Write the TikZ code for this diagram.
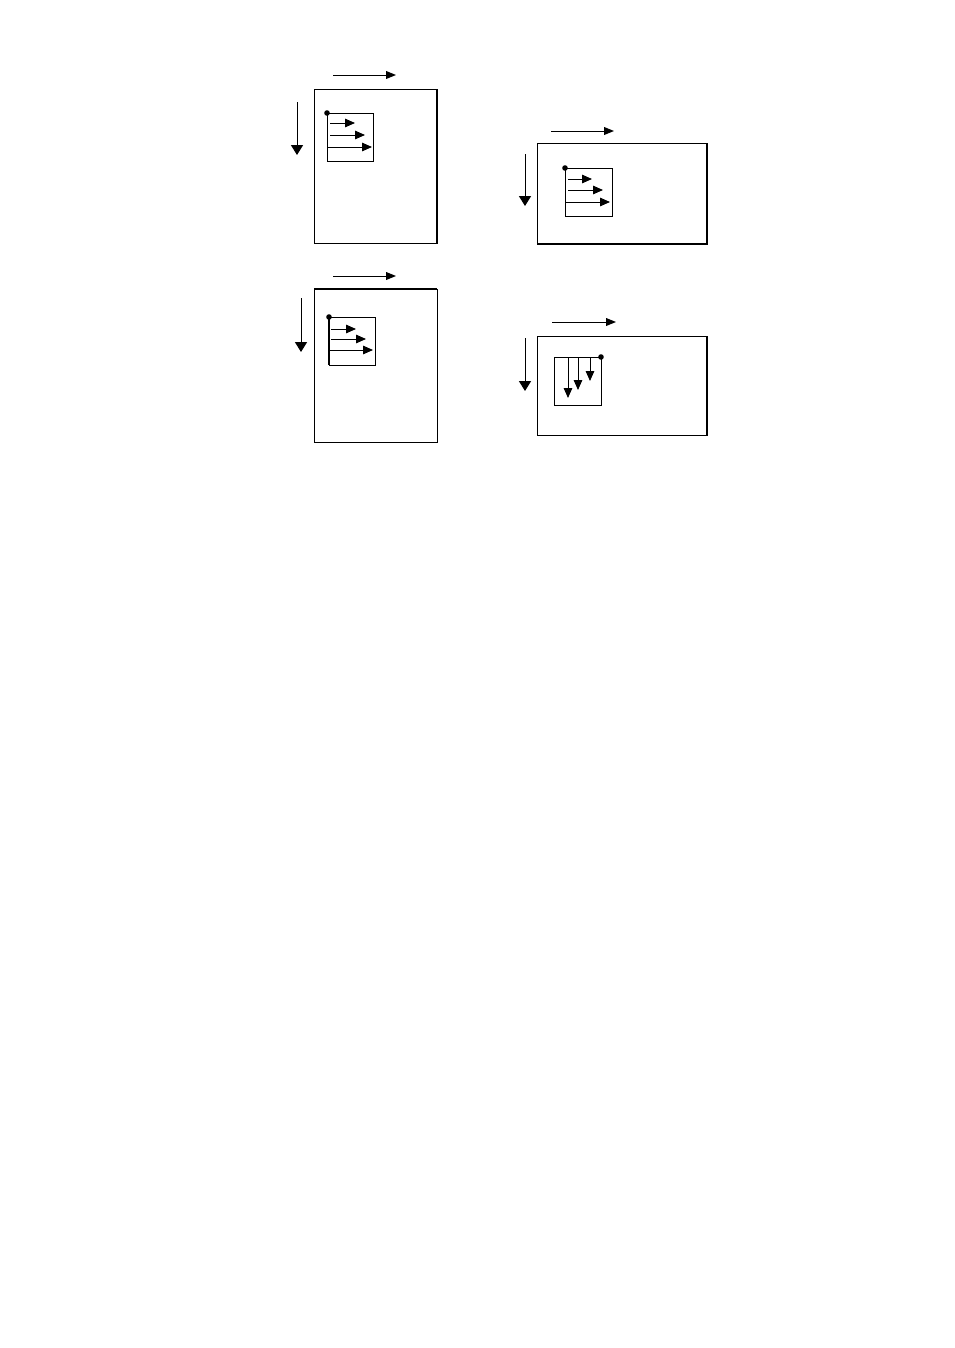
\documentclass[tikz,border=0pt]{standalone}
\usepackage{tikz}
\usetikzlibrary{arrows.meta}

\begin{document}
\begin{tikzpicture}[x=0.025cm, y=-0.025cm, line width=0.7pt,
    dirarrow/.style={-{Triangle[length=7pt, width=5.5pt]}},
    bigarrow/.style={-{Triangle[length=7pt, width=8.5pt]}},
    scanarrow/.style={-{Triangle[length=7pt, width=6pt]}}]
	\useasboundingbox (0,0) rectangle (954,1348);

	% panel 1: portrait page, rows left to right
	\draw[dirarrow] (333,75) -- (396,75);
	\draw[bigarrow] (297,102) -- (297,155);
	\draw (314,89) rectangle (437,243);
	\draw[line width=1pt] (437,89) -- (437,243);
	\draw (327,113) rectangle (373,161);
	\fill (327,113) circle (2.8);
	\draw[scanarrow] (330,123) -- (355,123);
	\draw[scanarrow] (330,135) -- (365,135);
	\draw[scanarrow] (327,147) -- (372,147);

	% panel 2: landscape page, rows left to right
	\draw[dirarrow] (551,131) -- (614,131);
	\draw[bigarrow] (525,154) -- (525,206);
	\draw (537,143) rectangle (707,244);
	\draw[line width=1.2pt] (707,143) -- (707,244) -- (537,244);
	\draw (565,168) rectangle (612,216);
	\fill (565,168) circle (2.8);
	\draw[scanarrow] (568,179) -- (592,179);
	\draw[scanarrow] (568,190) -- (603,190);
	\draw[scanarrow] (565,202) -- (610,202);

	% panel 3: portrait page, thick left edge of block
	\draw[dirarrow] (333,276) -- (396,276);
	\draw[bigarrow] (301,298) -- (301,352);
	\draw (314,289) rectangle (437,442);
	\draw[line width=1.2pt] (314,289) -- (437,289);
	\draw (329,317) rectangle (375,365);
	\draw[line width=1.5pt] (329,317) -- (329,365);
	\fill (329,317) circle (2.8);
	\draw[scanarrow] (331,329) -- (356,329);
	\draw[scanarrow] (331,339) -- (366,339);
	\draw[scanarrow] (329,350) -- (373,350);

	% panel 4: landscape page, columns top to bottom
	\draw[dirarrow] (552,322) -- (616,322);
	\draw[bigarrow] (525,338) -- (525,391);
	\draw (537,336) rectangle (707,435);
	\draw[line width=1.2pt] (707,336) -- (707,435);
	\draw (554,357) rectangle (601,405);
	\fill (601,357) circle (2.8);
	\foreach \xpos/\yend in {568/398, 578/390, 590/381} {
		\draw[scanarrow] (\xpos,357) -- (\xpos,\yend);
	}
\end{tikzpicture}
\end{document}
